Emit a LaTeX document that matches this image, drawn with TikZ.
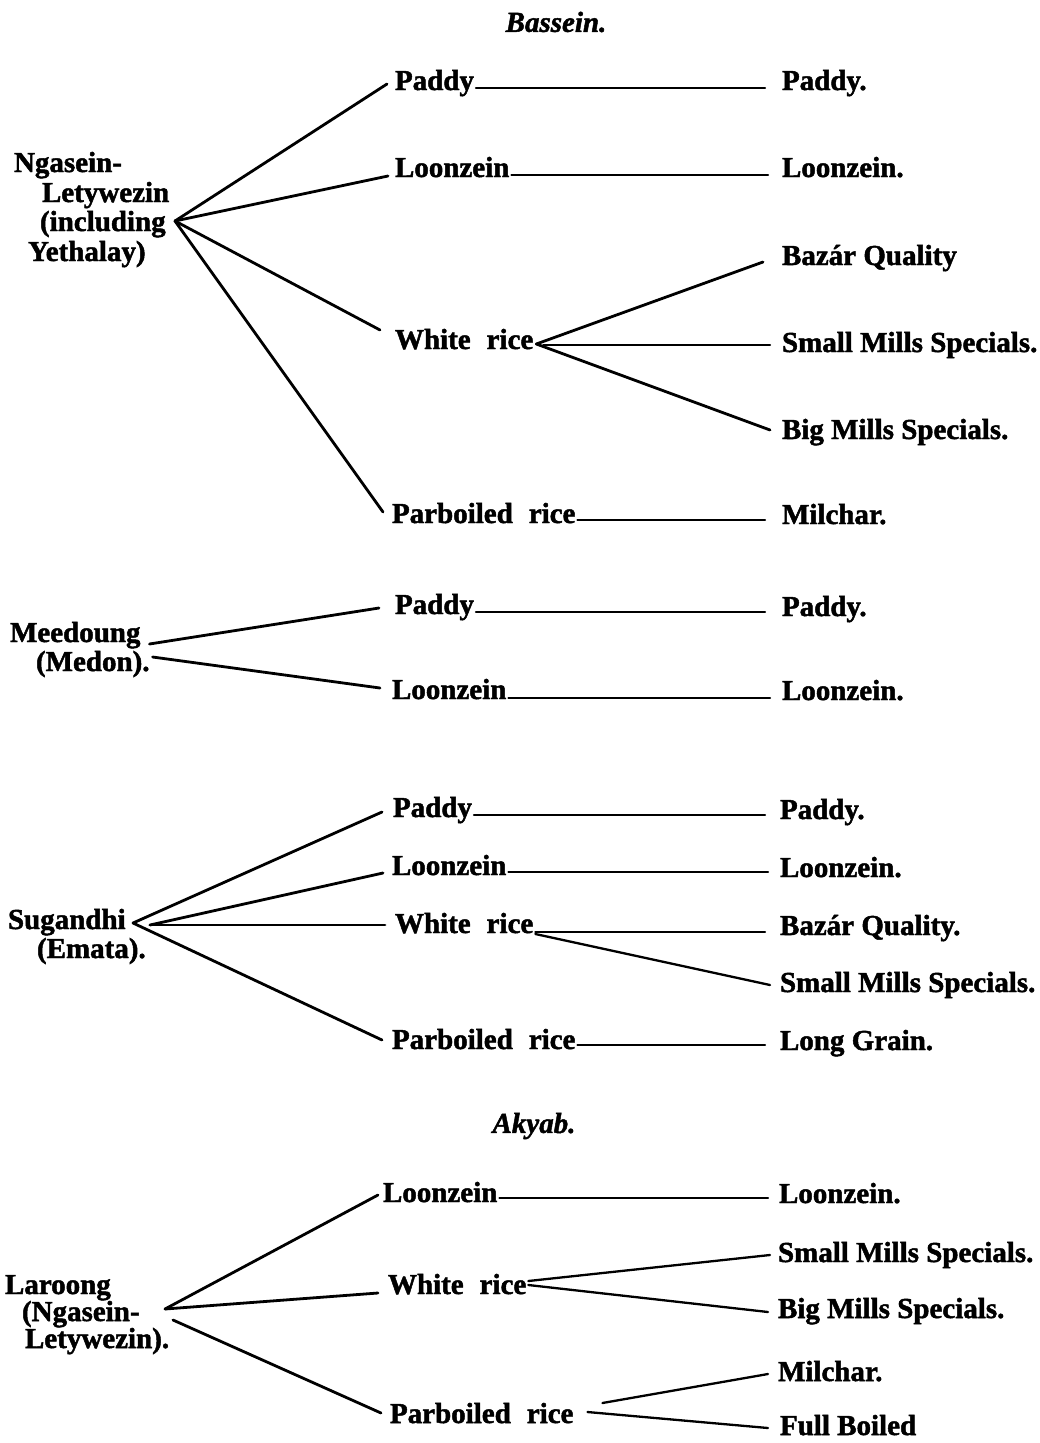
\documentclass[tikz,border=0pt]{standalone}
\usepackage{fontspec}
\setmainfont{Liberation Serif}[BoldFeatures={FakeBold=1.6},BoldItalicFeatures={FakeBold=1.6}]
\usetikzlibrary{calc}
\begin{document}
\begin{tikzpicture}[x=1pt,y=-1pt,
  lbl/.style={anchor=base west,inner sep=0pt,outer sep=0pt,font=\fontsize{29}{34}\selectfont\bfseries},
  ttl/.style={anchor=center,inner sep=0pt,outer sep=0pt,font=\fontsize{29}{34}\selectfont\bfseries\itshape},
  conn/.style={line width=2.8pt,line cap=round},
  hline/.style={line width=2.3pt,line cap=round}]
\useasboundingbox[fill=white] (0,0) rectangle (1040,1443);

% ---------------- Bassein ----------------
\node[ttl] (t1) at (556,22) {Bassein.};

\node[lbl] (n1a) at (14,172) {Ngasein-};
\node[lbl] (n1b) at (42,202) {Letywezin};
\node[lbl] (n1c) at (40,231) {(including};
\node[lbl] (n1d) at (28,261) {Yethalay)};
\coordinate (r1) at (175,221);

\node[lbl] (a1) at (395,90) {Paddy};
\node[lbl] (a2) at (395,177) {Loonzein};
\node[lbl] (a3) at (395,349) {White\hspace{0.55em}rice};
\node[lbl] (a4) at (392,523) {Parboiled\hspace{0.55em}rice};

\node[lbl] (b1) at (782,90) {Paddy.};
\node[lbl] (b2) at (782,177) {Loonzein.};
\node[lbl] (b3) at (782,265) {Bazár Quality};
\node[lbl] (b4) at (782,352) {Small Mills Specials.};
\node[lbl] (b5) at (782,439) {Big Mills Specials.};
\node[lbl] (b6) at (782,524) {Milchar.};

\draw[conn] (r1) -- ($(a1.base west)+(-8,-6)$);
\draw[conn] (r1) -- ($(a2.base west)+(-7,-1)$);
\draw[conn] (r1) -- ($(a3.base west)+(-15,-19)$);
\draw[conn] (r1) -- ($(a4.base west)+(-9,-11)$);

\draw[hline] ($(a1.base east)+(2,-2)$) -- ($(b1.base west)+(-17,-2)$);
\draw[hline] ($(a2.base east)+(2,-2)$) -- ($(b2.base west)+(-14,-2)$);
\coordinate (w1) at ($(a3.base east)+(3,-5)$);
\draw[conn] (w1) -- ($(b3.base west)+(-19,-3)$);
\draw[hline] ($(a3.base east)+(10,-4)$) -- ($(b4.base west)+(-12,-7)$);
\draw[conn] (w1) -- ($(b5.base west)+(-12,-9)$);
\draw[hline] ($(a4.base east)+(2,-3)$) -- ($(b6.base west)+(-17,-4)$);

% ---------------- Meedoung ----------------
\node[lbl] (m1a) at (10,642) {Meedoung};
\node[lbl] (m1b) at (36,671) {(Medon).};

\node[lbl] (c1) at (395,614) {Paddy};
\node[lbl] (c2) at (392,699) {Loonzein};
\node[lbl] (d1) at (782,616) {Paddy.};
\node[lbl] (d2) at (782,700) {Loonzein.};

\draw[conn] ($(m1a.base east)+(9,2)$) -- ($(c1.base west)+(-16,-6)$);
\draw[conn] ($(m1b.base east)+(3,-14)$) -- ($(c2.base west)+(-12,-11)$);
\draw[hline] ($(c1.base east)+(2,-2)$) -- ($(d1.base west)+(-17,-4)$);
\draw[hline] ($(c2.base east)+(2,-1)$) -- ($(d2.base west)+(-12,-2)$);

% ---------------- Sugandhi ----------------
\node[lbl] (s1a) at (8,929) {Sugandhi};
\node[lbl] (s1b) at (37,958) {(Emata).};
\coordinate (r3) at (133,923);
\coordinate (r3b) at (150,925);

\node[lbl] (e1) at (393,817) {Paddy};
\node[lbl] (e2) at (392,875) {Loonzein};
\node[lbl] (e3) at (395,933) {White\hspace{0.55em}rice};
\node[lbl] (e4) at (392,1049) {Parboiled\hspace{0.55em}rice};

\node[lbl] (f1) at (780,819) {Paddy.};
\node[lbl] (f2) at (780,877) {Loonzein.};
\node[lbl] (f3) at (780,935) {Bazár Quality.};
\node[lbl] (f4) at (780,992) {Small Mills Specials.};
\node[lbl] (f5) at (780,1050) {Long Grain.};

\draw[conn] (r3) -- ($(e1.base west)+(-11,-5)$);
\draw[conn] (r3b) -- ($(e2.base west)+(-9,-2)$);
\draw[conn] (r3b) -- ($(e3.base west)+(-10,-8)$);
\draw[conn] (r3) -- ($(e4.base west)+(-10,-9)$);

\draw[hline] ($(e1.base east)+(2,-2)$) -- ($(f1.base west)+(-15,-4)$);
\draw[hline] ($(e2.base east)+(2,-3)$) -- ($(f2.base west)+(-12,-5)$);
\draw[hline] ($(e3.base east)+(2,-1)$) -- ($(f3.base west)+(-15,-3)$);
\draw[hline] ($(e3.base east)+(2,1)$) -- ($(f4.base west)+(-10,-7)$);
\draw[hline] ($(e4.base east)+(2,-4)$) -- ($(f5.base west)+(-15,-5)$);

% ---------------- Akyab ----------------
\node[ttl] (t2) at (534,1126) {Akyab.};

\node[lbl] (l1a) at (5,1294) {Laroong};
\node[lbl] (l1b) at (22,1321) {(Ngasein-};
\node[lbl] (l1c) at (25,1348) {Letywezin).};
\coordinate (r4) at (165,1309);
\coordinate (r4b) at (173,1320);

\node[lbl] (g1) at (383,1202) {Loonzein};
\node[lbl] (g2) at (388,1294) {White\hspace{0.55em}rice};
\node[lbl] (g3) at (390,1423) {Parboiled\hspace{0.55em}rice};

\node[lbl] (h1) at (779,1203) {Loonzein.};
\node[lbl] (h2) at (778,1262) {Small Mills Specials.};
\node[lbl] (h3) at (778,1318) {Big Mills Specials.};
\node[lbl] (h4) at (778,1381) {Milchar.};
\node[lbl] (h5) at (780,1435) {Full Boiled};

\draw[conn] (r4) -- ($(g1.base west)+(-5,-7)$);
\draw[conn] (r4) -- ($(g2.base west)+(-10,-1)$);
\draw[conn] (r4b) -- ($(g3.base west)+(-9,-10)$);

\draw[hline] ($(g1.base east)+(2,-4)$) -- ($(h1.base west)+(-11,-5)$);
\draw[hline] ($(g2.base east)+(2,-13)$) -- ($(h2.base west)+(-8,-7)$);
\draw[hline] ($(g2.base east)+(2,-9)$) -- ($(h3.base west)+(-10,-6)$);
\draw[hline] ($(g3.base east)+(29,-20)$) -- ($(h4.base west)+(-10,-7)$);
\draw[hline] ($(g3.base east)+(14,-11)$) -- ($(h5.base west)+(-12,-7)$);
\end{tikzpicture}
\end{document}
